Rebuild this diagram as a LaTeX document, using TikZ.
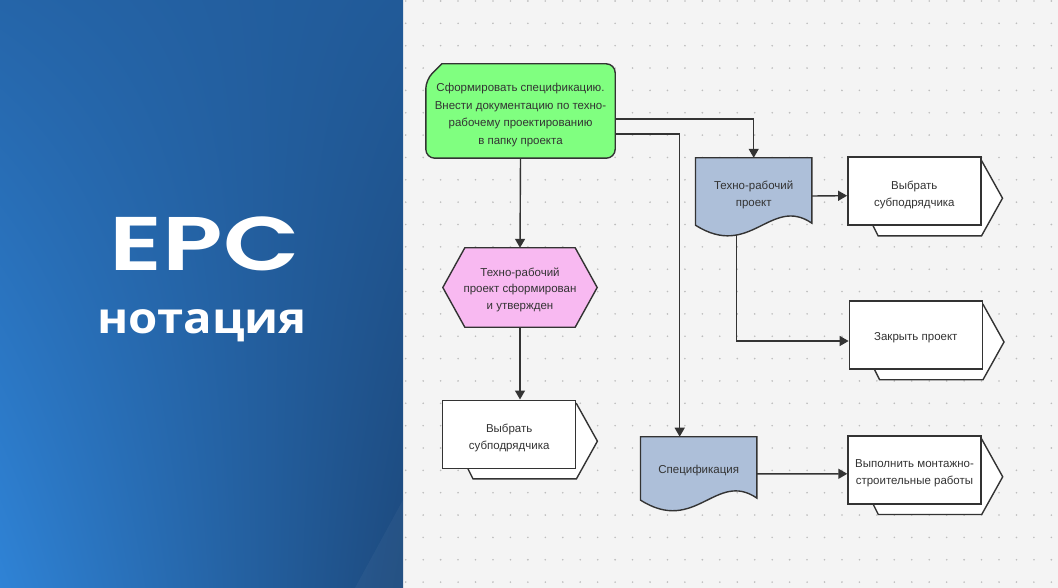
\documentclass[tikz,border=0pt]{standalone}
\usepackage{fontspec}
\setmainfont{Liberation Sans}
\newfontfamily\epcfont{Poppins SemiBold}
\newfontfamily\notafont{Open Sans}
\usetikzlibrary{arrows.meta,calc,shadings}
\pgfdeclarelayer{panel}
\pgfdeclarelayer{behind}
\pgfsetlayers{panel,behind,main}
\definecolor{ink}{HTML}{333333}
\definecolor{paper}{HTML}{F4F4F4}
\definecolor{dotc}{HTML}{BDBDBD}
\definecolor{evgreen}{HTML}{80FF80}
\definecolor{evpink}{HTML}{F8B9F1}
\definecolor{docblue}{HTML}{ADBFD9}
\definecolor{panelul}{RGB}{37,101,169}
\definecolor{panelur}{RGB}{33,90,152}
\definecolor{panelll}{RGB}{47,131,214}
\definecolor{panellr}{RGB}{29,74,126}
\tikzset{
  line/.style={draw=ink, line width=1.4pt},
  flow/.style={line, -{Triangle[length=9pt,width=10pt]}},
  func/.style={line, fill=white, minimum width=133pt, minimum height=68pt, inner sep=0pt, align=center},
  docnode/.style={minimum width=116pt, minimum height=67pt, inner sep=0pt, align=center},
  label/.style={text=ink, font=\fontsize{11.5}{17.5}\selectfont}
}
% strut that pushes a label down a little
\newcommand\up[1]{\rule{0pt}{#1}}
% back part of a function box
\newcommand\funcback[1]{%
  \begin{pgfonlayer}{behind}
  \draw[line, fill=white] ($(#1.north west)+(26,4)$) -- ($(#1.north east)+(0,4)$)
    -- ($(#1.east)+(21,7)$) -- ($(#1.south east)+(0,10)$)
    -- ($(#1.south west)+(31,10)$) -- ($(#1.south west)+(26,0)$) -- cycle;
  \end{pgfonlayer}}
% document outline with wavy bottom
\newcommand\docback[1]{%
  \begin{pgfonlayer}{behind}
  \draw[line, fill=docblue] (#1.south west) -- (#1.north west) -- (#1.north east)
    -- ($(#1.south east)+(0,-2)$) .. controls +(-41,-28) and +(55,35) .. (#1.south west) -- cycle;
  \end{pgfonlayer}}
\begin{document}
\begin{tikzpicture}[x=1pt,y=-1pt]
  \useasboundingbox (0,0) rectangle (1058,588);
  \begin{pgfonlayer}{panel}
    \fill[paper] (0,0) rectangle (1058,588);
    \foreach \i in {0,...,37}
      \foreach \j in {0,...,26}
        \fill[dotc] (405.7+17.45*\i, 1+22.35*\j) circle (0.9pt);
    \shade[upper left=panelul, upper right=panelur, lower left=panelll, lower right=panellr]
      (0,0) rectangle (403,588);
    \fill[white, opacity=0.04] (403,500) -- (403,588) -- (355,588) -- cycle;
  \end{pgfonlayer}

  % title
  \node[text=white, anchor=base, inner sep=0pt] (title) at (204.5,270)
    {\scalebox{1.31}[1]{\epcfont\fontsize{76}{76}\selectfont EPC}};
  \node[text=white, anchor=base, inner sep=0pt] (subtitle) at (202,333)
    {\scalebox{1.1}[1]{\notafont\bfseries\fontsize{43}{43}\selectfont нотация}};

  % event-driven chain
  \node[label, minimum width=189pt, minimum height=94pt, inner sep=0pt, align=center] (green) at (520.5,111)
    {\up{16pt}Сформировать спецификацию.\\Внести документацию по техно-\\рабочему проектированию\\в папку проекта};
  \begin{pgfonlayer}{behind}
    \draw[line, fill=evgreen] (green.north) [rounded corners=9pt] -- (green.north east) -- (green.south east)
      -- (green.south west) -- ($(green.north west)+(0,16)$) [sharp corners] -- ($(green.north west)+(16,0)$) -- cycle;
  \end{pgfonlayer}

  \node[label, minimum width=154pt, minimum height=79pt, inner sep=0pt, align=center,
    font=\fontsize{11.5}{16.5}\selectfont] (hexa) at (520,287.5)
    {\up{12.5pt}Техно-рабочий\\проект сформирован\\и утвержден};
  \begin{pgfonlayer}{behind}
    \draw[line, fill=evpink] (hexa.west) -- ($(hexa.north west)+(22,0)$) -- ($(hexa.north east)+(-22,0)$)
      -- (hexa.east) -- ($(hexa.south east)+(-22,0)$) -- ($(hexa.south west)+(22,0)$) -- cycle;
  \end{pgfonlayer}

  \node[func, label] (pick1) at (509.2,434.2) {\up{15.5pt}Выбрать\\субподрядчика};
  \funcback{pick1}

  % documents
  \node[docnode, label] (plan) at (753.7,191.5) {\up{15pt}Техно-рабочий\\проект};
  \docback{plan}
  \node[docnode, label, minimum height=63pt] (spec) at (698.7,468.4) {\up{12.5pt}Спецификация};
  \docback{spec}

  % functions on the right
  \node[func, label] (pick2) at (914.3,191.2) {\up{15.5pt}Выбрать\\субподрядчика};
  \funcback{pick2}
  \node[func, label] (close) at (915.8,335) {\up{12.5pt}Закрыть проект};
  \funcback{close}
  \node[func, label] (build) at (914.5,469.8) {\up{15pt}Выполнить монтажно-\\строительные работы};
  \funcback{build}

  % connectors
  \draw[flow] (green.south) -- (hexa.north);
  \draw[flow] (hexa.south) -- (hexa.south |- pick1.north);
  \draw[flow] ($(green.east)+(0,8)$) -| (plan.north);
  \draw[flow] ($(green.east)+(0,23)$) -| ($(spec.north)+(-19,0)$);
  \draw[flow] ($(plan.east)+(0,4.5)$) -- ($(pick2.west)+(0,4.5)$);
  \draw[flow] ($(plan.south)+(-17,10)$) |- ($(close.west)+(0,6)$);
  \draw[flow] ($(spec.east)+(0,5.5)$) -- ($(build.west)+(0,4)$);
\end{tikzpicture}
\end{document}
